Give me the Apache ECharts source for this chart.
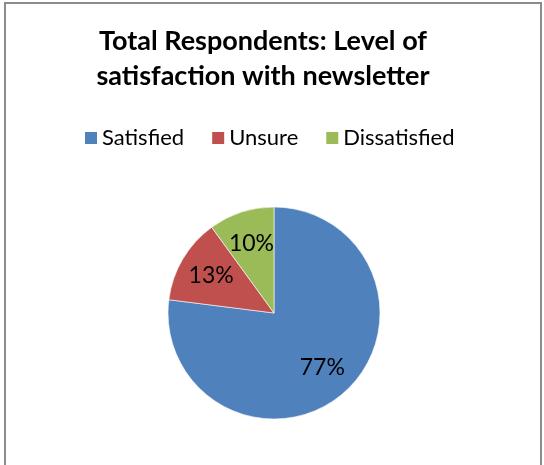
<!DOCTYPE html>
<html>
<head>
<meta charset="utf-8">
<script src="https://cdn.jsdelivr.net/npm/echarts@6/dist/echarts.min.js"></script>
<style>
  html, body { margin: 0; padding: 0; background: #fff; }
  #chart { width: 544px; height: 465px; }
</style>
</head>
<body>
<div id="chart"></div>
<script>
// Survey answers: share of respondents per satisfaction level (%)
const categories = ['Satisfied', 'Unsure', 'Dissatisfied'];
const shares = [77, 13, 10];
const colors = ['#4F81BD', '#C0504D', '#9BBB59'];
const titleText = 'Total Respondents: Level of\nsatisfaction with newsletter';

const FONT = 'Lato, "Open Sans", sans-serif';
const data = categories.map((name, i) => ({ name, value: shares[i] }));

const chart = echarts.init(document.getElementById('chart'), null, { renderer: 'canvas' });

chart.setOption({
  backgroundColor: '#fff',
  animation: false,
  color: colors,
  graphic: [{
    type: 'rect',
    silent: true,
    shape: { x: 5, y: 3, width: 536, height: 480 },
    style: { fill: 'none', stroke: '#8c8c8c', lineWidth: 2 }
  }],
  title: {
    text: titleText,
    left: 258,
    textAlign: 'center',
    top: 19,
    textStyle: {
      fontFamily: FONT,
      fontSize: 27,
      fontWeight: 'bold',
      color: '#000',
      lineHeight: 35
    }
  },
  legend: {
    data: categories,
    top: 122,
    left: 78,
    icon: 'rect',
    itemWidth: 14,
    itemHeight: 14,
    itemGap: 26,
    textStyle: { fontFamily: FONT, fontSize: 22, color: '#000', padding: [0, 0, 0, -1] }
  },
  series: [
    {
      // the visible slices
      type: 'pie',
      center: [274, 313],
      radius: [0, 106],
      startAngle: 90,
      clockwise: true,
      silent: true,
      itemStyle: { borderColor: '#fff', borderWidth: 0.6 },
      label: { show: false },
      labelLine: { show: false },
      data: data
    },
    {
      // label ring: places the percentages at about two thirds of the radius
      type: 'pie',
      center: [274, 313],
      radius: [0, 140],
      startAngle: 90,
      clockwise: true,
      silent: true,
      itemStyle: { color: 'rgba(0,0,0,0)' },
      label: {
        show: true,
        position: 'inside',
        formatter: p => p.value + '%',
        fontFamily: FONT,
        fontSize: 23,
        color: '#000'
      },
      labelLine: { show: false },
      data: data
    }
  ]
});
</script>
</body>
</html>
